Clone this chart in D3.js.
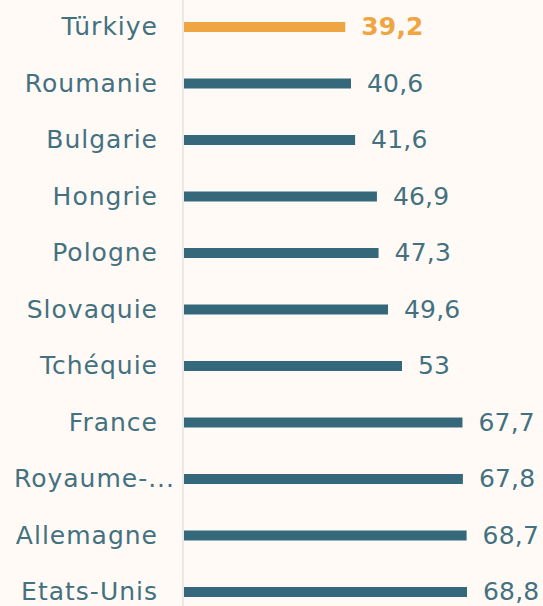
<!DOCTYPE html>
<html>
<head>
<meta charset="utf-8">
<script src="https://cdn.jsdelivr.net/npm/d3@7"></script>
<style>
  body { margin: 0; background: #fffaf6; }
</style>
</head>
<body>
<div class="center"></div>
<script>
// Chart data
const countries = ["Türkiye", "Roumanie", "Bulgarie", "Hongrie", "Pologne", "Slovaquie",
                   "Tchéquie", "France", "Royaume-...", "Allemagne", "Etats-Unis"];
const values = [39.2, 40.6, 41.6, 46.9, 47.3, 49.6, 53, 67.7, 67.8, 68.7, 68.8];
const valueLabels = ["39,2", "40,6", "41,6", "46,9", "47,3", "49,6", "53", "67,7", "67,8", "68,7", "68,8"];
const highlight = "Türkiye";

const data = countries.map((c, i) => ({country: c, value: values[i], label: valueLabels[i]}));

const W = 543, H = 606;
const axisX = 184;
const teal = "#35687a";
const orange = "#f0a543";
const textColor = "#44717f";
const font = "'DejaVu Sans', sans-serif";

const svg = d3.select(".center").append("svg")
              .attr("width", W)
              .attr("height", H)
              .style("display", "block")
              .style("background", "#fffaf6");

// scales
const xScale = d3.scaleLinear().domain([0, 68.8]).range([axisX, axisX + 283]);
const yScale = d3.scaleBand().domain(countries).range([-1.25, 620.25]).padding(0);

const barH = 10;

// vertical axis line
svg.append("line")
   .attr("x1", axisX - 1).attr("x2", axisX - 1)
   .attr("y1", 0).attr("y2", H)
   .attr("stroke", "#e9e9e9")
   .attr("stroke-width", 2);

// bars
svg.selectAll(".bar")
   .data(data)
   .enter().append("rect")
   .attr("class", "bar")
   .attr("x", xScale(0))
   .attr("y", d => yScale(d.country) + yScale.bandwidth() / 2 - barH / 2)
   .attr("width", d => xScale(d.value) - xScale(0))
   .attr("height", barH)
   .style("fill", d => d.country === highlight ? orange : teal);

// category labels
svg.selectAll(".cat")
   .data(data)
   .enter().append("text")
   .attr("class", "cat")
   .attr("x", d => d.country === "Royaume-..." ? 175 : 158)
   .attr("y", d => yScale(d.country) + yScale.bandwidth() / 2)
   .attr("dy", "0.33em")
   .attr("text-anchor", "end")
   .text(d => d.country)
   .style("font-family", font)
   .style("font-size", "25px")
   .style("letter-spacing", "1px")
   .style("fill", textColor);

// value labels
svg.selectAll(".val")
   .data(data)
   .enter().append("text")
   .attr("class", "val")
   .attr("x", d => xScale(d.value) + 16)
   .attr("y", d => yScale(d.country) + yScale.bandwidth() / 2)
   .attr("dy", "0.33em")
   .text(d => d.label)
   .style("font-family", font)
   .style("font-size", "25px")
   .style("letter-spacing", "0.2px")
   .style("font-weight", d => d.country === highlight ? "700" : "400")
   .style("fill", d => d.country === highlight ? orange : textColor);
</script>
</body>
</html>
